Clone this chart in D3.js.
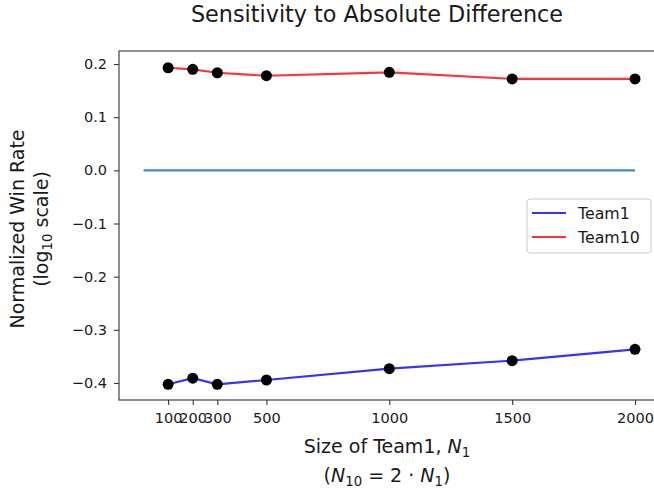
<!DOCTYPE html>
<html>
<head>
<meta charset="utf-8">
<script src="https://cdn.jsdelivr.net/npm/d3@7"></script>
<style>
  body { margin: 0; background: #fff; }
  svg text { font-family: 'DejaVu Sans', sans-serif; fill: #1a1a1a; }
</style>
</head>
<body>
<svg id="chart" width="654" height="490"></svg>
<script>
// data
const sizes = [100, 200, 300, 500, 1000, 1500, 2000];
const team1 = [-0.4025, -0.391, -0.4025, -0.3944, -0.373, -0.358, -0.3367];
const team10 = [0.193, 0.190, 0.1836, 0.178, 0.1843, 0.172, 0.172];
const baselineX = [0, 2000];
const baselineY = [0, 0];
const xTicks = [100, 200, 300, 500, 1000, 1500, 2000];
const yTicks = [0.2, 0.1, 0.0, -0.1, -0.2, -0.3, -0.4];
const seriesNames = ['Team1', 'Team10'];

const plotLeft = 119, plotRight = 659.6, plotTop = 51, plotBottom = 400;

const svg = d3.select('#chart');

const x = d3.scaleLinear().domain([-100, 2100]).range([plotLeft, plotRight]);
const y = d3.scaleLinear().domain([-0.432, 0.2245]).range([plotBottom, plotTop]);

// spines
svg.append('rect')
  .attr('x', plotLeft).attr('y', plotTop)
  .attr('width', plotRight - plotLeft).attr('height', plotBottom - plotTop)
  .attr('fill', 'none').attr('stroke', '#333').attr('stroke-width', 1.1);

const fmtY = (d) => d3.format('.1f')(d).replace('-', '\u2212');

const xAxis = d3.axisBottom(x).tickValues(xTicks).tickSize(5).tickPadding(8).tickFormat(d3.format('d'));
const yAxis = d3.axisLeft(y).tickValues(yTicks).tickSize(5).tickPadding(7).tickFormat(fmtY);

svg.append('g')
  .attr('transform', `translate(0, ${plotBottom})`)
  .call(xAxis)
  .call((g) => g.select('.domain').remove());

svg.append('g')
  .attr('transform', `translate(${plotLeft}, 0)`)
  .call(yAxis)
  .call((g) => g.select('.domain').remove());

svg.selectAll('.tick line').attr('stroke', '#333').attr('stroke-width', 1.1);
svg.selectAll('.tick text')
  .attr('font-size', '14.5px')
  .attr('font-family', 'DejaVu Sans')
  .attr('fill', '#1a1a1a');

const line = d3.line().x((d) => x(d[0])).y((d) => y(d[1]));

const plot = svg.append('g');

plot.append('path')
  .attr('d', line(d3.zip(baselineX, baselineY)))
  .attr('fill', 'none')
  .attr('stroke', '#1f77b4')
  .attr('stroke-opacity', 0.85)
  .attr('stroke-width', 2.1);

plot.append('path')
  .attr('d', line(d3.zip(sizes, team1)))
  .attr('fill', 'none')
  .attr('stroke', '#0000ff')
  .attr('stroke-opacity', 0.8)
  .attr('stroke-width', 2.1);

plot.append('path')
  .attr('d', line(d3.zip(sizes, team10)))
  .attr('fill', 'none')
  .attr('stroke', '#ff0000')
  .attr('stroke-opacity', 0.8)
  .attr('stroke-width', 2.1);

[team1, team10].forEach((vals) => {
  plot.selectAll(null)
    .data(d3.zip(sizes, vals))
    .enter()
    .append('circle')
    .attr('cx', (d) => x(d[0]))
    .attr('cy', (d) => y(d[1]))
    .attr('r', 5.5)
    .attr('fill', '#000');
});

// title
svg.append('text')
  .attr('x', 377).attr('y', 22)
  .attr('text-anchor', 'middle')
  .attr('font-size', '22.3px')
  .text('Sensitivity to Absolute Difference');

// x label
const xl = svg.append('text')
  .attr('x', 387).attr('y', 453)
  .attr('text-anchor', 'middle')
  .attr('font-size', '19px');
xl.append('tspan').text('Size of Team1, ');
xl.append('tspan').attr('font-style', 'italic').text('N');
xl.append('tspan').attr('font-size', '13.3px').attr('dy', 4).text('1');

const xl2 = svg.append('text')
  .attr('x', 387).attr('y', 482)
  .attr('text-anchor', 'middle')
  .attr('font-size', '19px');
xl2.append('tspan').text('(');
xl2.append('tspan').attr('font-style', 'italic').text('N');
xl2.append('tspan').attr('font-size', '13.3px').attr('dy', 4).text('10');
xl2.append('tspan').attr('dy', -4).text(' = 2 \u00b7 ');
xl2.append('tspan').attr('font-style', 'italic').text('N');
xl2.append('tspan').attr('font-size', '13.3px').attr('dy', 4).text('1');
xl2.append('tspan').attr('dy', -4).text(')');

// y label
const yl = svg.append('g').attr('transform', 'translate(24, 229) rotate(-90)');
yl.append('text')
  .attr('text-anchor', 'middle')
  .attr('font-size', '19px')
  .text('Normalized Win Rate');
const yl2 = yl.append('text')
  .attr('y', 24)
  .attr('text-anchor', 'middle')
  .attr('font-size', '19px');
yl2.append('tspan').text('(log');
yl2.append('tspan').attr('font-size', '13.3px').attr('dy', 4).text('10');
yl2.append('tspan').attr('dy', -4).text(' scale)');

// legend
const legend = svg.append('g').attr('transform', 'translate(527, 199)');
legend.append('rect')
  .attr('width', 124).attr('height', 54)
  .attr('rx', 3)
  .attr('fill', '#fff').attr('fill-opacity', 0.8)
  .attr('stroke', '#ccc').attr('stroke-width', 1);
const legendColors = ['#0000ff', '#ff0000'];
seriesNames.forEach((name, i) => {
  const yy = 14 + i * 24;
  legend.append('line')
    .attr('x1', 5).attr('x2', 39)
    .attr('y1', yy).attr('y2', yy)
    .attr('stroke', legendColors[i])
    .attr('stroke-opacity', 0.8)
    .attr('stroke-width', 2.1);
  legend.append('text')
    .attr('x', 51).attr('y', yy + 5.5)
    .attr('font-size', '15.8px')
    .text(name);
});
</script>
</body>
</html>
